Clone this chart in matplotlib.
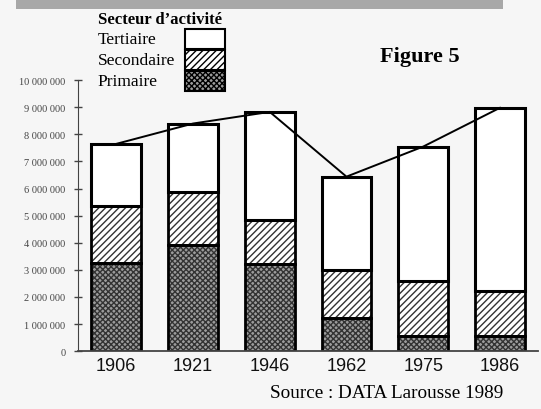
import matplotlib.pyplot as plt
import matplotlib.patches as mpatches
import numpy as np

# données
annees = ['1906', '1921', '1946', '1962', '1975', '1986']
primaire = [3.25e6, 3.90e6, 3.23e6, 1.22e6, 0.56e6, 0.55e6]
secondaire = [2.10e6, 1.99e6, 1.62e6, 1.76e6, 2.02e6, 1.66e6]
tertiaire = [2.30e6, 2.51e6, 3.98e6, 3.46e6, 4.97e6, 6.77e6]
y_ticks = [0, 1e6, 2e6, 3e6, 4e6, 5e6, 6e6, 7e6, 8e6, 9e6, 10e6]

plt.rcParams['hatch.linewidth'] = 1.0
fond = '#f6f6f6'
gris = '#9c9c9c'

fig = plt.figure(figsize=(5.41, 4.10), dpi=100, facecolor=fond)
ax = fig.add_axes([0.144, 0.141, 0.851, 0.661], facecolor=fond)

x = np.arange(len(annees))
total = np.array(primaire) + np.array(secondaire) + np.array(tertiaire)
w = 0.65

ax.bar(x, primaire, w, color=gris, hatch='xxxxxx', edgecolor='#333333', linewidth=0)
ax.bar(x, secondaire, w, bottom=primaire, color='white', hatch='/////', edgecolor='#333333', linewidth=0)
ax.bar(x, tertiaire, w, bottom=np.array(primaire) + np.array(secondaire), color='white', linewidth=0)
# contours épais
ax.bar(x, primaire, w, fill=False, edgecolor='black', linewidth=2)
ax.bar(x, secondaire, w, bottom=primaire, fill=False, edgecolor='black', linewidth=2)
ax.bar(x, tertiaire, w, bottom=np.array(primaire) + np.array(secondaire), fill=False, edgecolor='black', linewidth=2.2)

ax.plot(x, total, color='black', linewidth=1.4, zorder=5)

ax.set_xlim(-0.5, 5.5)
ax.set_ylim(0, 10e6)
ax.set_yticks(y_ticks)
ax.set_yticklabels([f'{int(v):,}'.replace(',', ' ') for v in y_ticks],
                   fontsize=7.5, family='Liberation Serif', color='#444444')
ax.set_xticks(x)
ax.set_xticklabels(annees, fontsize=13, family='Liberation Sans', color='#111111')
ax.tick_params(axis='y', direction='inout', length=6, width=1, color='#444444', pad=6)
ax.tick_params(axis='x', length=0, pad=4)
ax.spines['top'].set_visible(False)
ax.spines['right'].set_visible(False)
ax.spines['left'].set_color('#444444')
ax.spines['bottom'].set_color('#444444')
ax.spines['bottom'].set_linewidth(1.3)

# bandeau gris en haut
fig.patches.append(mpatches.Rectangle((0.03, 0.976), 0.90, 0.024, transform=fig.transFigure,
                                      facecolor='#a8a8a8', edgecolor='none'))

# légende
fig.text(0.181, 0.952, 'Secteur d\u2019activit\u00e9', fontsize=12, fontweight='bold',
         family='Liberation Serif', va='center')
noms = ['Tertiaire', 'Secondaire', 'Primaire']
styles = [('white', None), ('white', '/////'), (gris, 'xxxxxx')]
for i, (nom, (fc, h)) in enumerate(zip(noms, styles)):
    yc = 0.902 - i * 0.051
    fig.text(0.181, yc, nom, fontsize=12.5, family='Liberation Serif', va='center')
    fig.patches.append(mpatches.Rectangle((0.342, yc - 0.025), 0.074, 0.049, transform=fig.transFigure,
                                          facecolor=fc, hatch=h, edgecolor='black', linewidth=1.5))

fig.text(0.702, 0.86, 'Figure 5', fontsize=16, fontweight='bold', family='Liberation Serif', va='center')
fig.text(0.499, 0.040, 'Source : DATA Larousse 1989', fontsize=13.8, family='Liberation Serif', va='center')

fig.savefig('out.png', dpi=100, facecolor=fond)
